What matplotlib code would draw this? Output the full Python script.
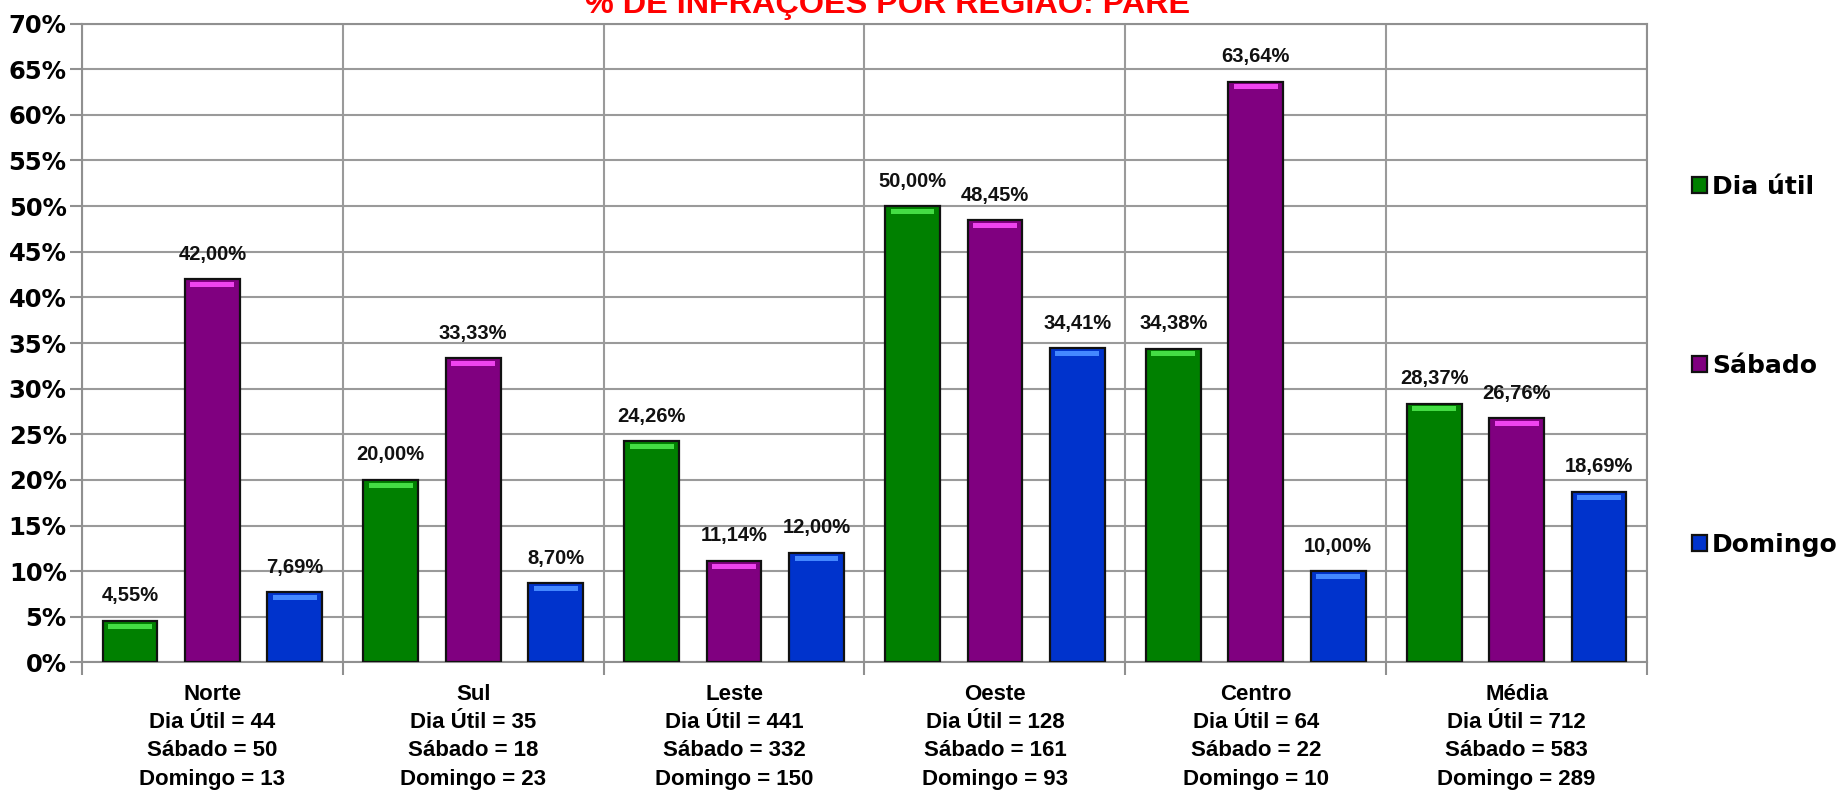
import matplotlib.pyplot as plt
import numpy as np

# data
regioes = ['Norte', 'Sul', 'Leste', 'Oeste', 'Centro', 'Média']
dia_util = [4.55, 20.00, 24.26, 50.00, 34.38, 28.37]
sabado = [42.00, 33.33, 11.14, 48.45, 63.64, 26.76]
domingo = [7.69, 8.70, 12.00, 34.41, 10.00, 18.69]
n_dia_util = [44, 35, 441, 128, 64, 712]
n_sabado = [50, 18, 332, 161, 22, 583]
n_domingo = [13, 23, 150, 93, 10, 289]
series_nomes = ['Dia útil', 'Sábado', 'Domingo']
y_ticks = list(range(0, 75, 5))

plt.rcParams['font.family'] = ['Liberation Sans', 'DejaVu Sans']
plt.rcParams['font.weight'] = 'bold'

cores = ['#008000', '#800080', '#0033cc']
realces = ['#44dd44', '#ee44ee', '#4488ff']

fig = plt.figure(figsize=(18.45, 7.95), dpi=100)
ax = fig.add_axes([0.0444, 0.1667, 0.8483, 0.8037])

x = np.arange(len(regioes))
largura = 0.21
passo = 0.316

for i, (vals, nome) in enumerate(zip([dia_util, sabado, domingo], series_nomes)):
    pos = x + (i - 1) * passo
    ax.bar(pos, vals, width=largura, color=cores[i], edgecolor='#111111',
           linewidth=1.6, label=nome, zorder=3)
    # faixa clara no topo (efeito de relevo)
    ax.bar(pos, [0.55] * len(vals), bottom=[v - 0.85 for v in vals],
           width=largura * 0.8, color=realces[i], linewidth=0, zorder=4)
    for p, v in zip(pos, vals):
        ax.annotate(f'{v:.2f}%'.replace('.', ','), (p, v), xytext=(0, 18),
                    textcoords='offset points', ha='center', va='center',
                    fontsize=14.5, fontweight='bold', color='#111111')

ax.set_xlim(-0.5, len(regioes) - 0.5)
ax.set_ylim(0, 70)
ax.set_yticks(y_ticks)
ax.set_yticklabels([f'{t}%' for t in y_ticks], fontsize=17.5, fontweight='bold',
                   family='DejaVu Sans')

rotulos = [f'{r}\nDia Útil = {a}\nSábado = {b}\nDomingo = {c}'
           for r, a, b, c in zip(regioes, n_dia_util, n_sabado, n_domingo)]
ax.set_xticks(x)
ax.set_xticklabels(rotulos, fontsize=16, fontweight='bold', linespacing=1.45)
ax.set_xticks(np.arange(-0.5, len(regioes), 1), minor=True)
ax.tick_params(axis='x', which='major', length=0, pad=15.5)
ax.tick_params(axis='x', which='minor', length=9, width=1.5, color='#909090')
ax.tick_params(axis='y', length=9, width=1.5, color='#909090', pad=2)

ax.grid(axis='y', color='#9a9a9a', linewidth=1.5, zorder=0)
ax.grid(axis='x', which='minor', color='#9a9a9a', linewidth=1.5, zorder=0)
for s in ax.spines.values():
    s.set_color('#909090')
    s.set_linewidth(1.5)

fig.text(0.481, 1 - 13 / 795, '% DE INFRAÇÕES POR REGIÃO: PARE', color='#ff0000',
         fontsize=23.3, fontweight='bold', ha='center', va='baseline')

fig.legend(loc='center left', bbox_to_anchor=(0.905, 0.5396), frameon=False,
           prop={'family': 'DejaVu Sans', 'weight': 'bold', 'size': 18},
           labelspacing=6.2, handlelength=0.6, handleheight=0.6,
           handletextpad=0.2)

fig.savefig('out.png', dpi=100)
